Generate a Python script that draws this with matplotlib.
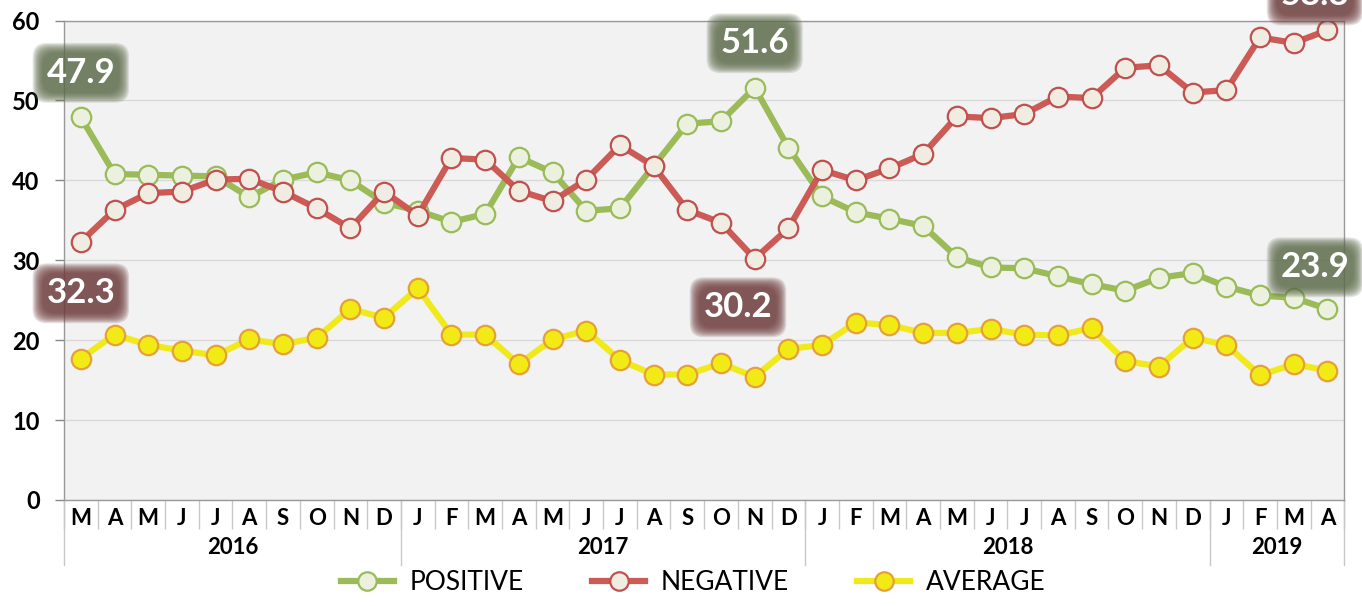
import matplotlib
matplotlib.use("Agg")
import matplotlib.pyplot as plt
import numpy as np

plt.rcParams['font.family'] = ['Lato', 'DejaVu Sans']

months = ['M', 'A', 'M', 'J', 'J', 'A', 'S', 'O', 'N', 'D',
          'J', 'F', 'M', 'A', 'M', 'J', 'J', 'A', 'S', 'O', 'N', 'D',
          'J', 'F', 'M', 'A', 'M', 'J', 'J', 'A', 'S', 'O', 'N', 'D',
          'J', 'F', 'M', 'A']
years = ['2016', '2017', '2018', '2019']
months_per_year = [10, 12, 12, 4]

positive = [47.9, 40.8, 40.7, 40.6, 40.5, 37.9, 40.1, 41.0, 40.0, 37.2,
            36.2, 34.8, 35.8, 42.9, 41.0, 36.2, 36.5, 41.8, 47.1, 47.4, 51.6, 44.1,
            38.0, 36.0, 35.2, 34.3, 30.4, 29.1, 29.0, 28.0, 27.0, 26.2, 27.8, 28.4,
            26.7, 25.6, 25.3, 23.9]
negative = [32.3, 36.3, 38.4, 38.6, 40.1, 40.2, 38.6, 36.5, 34.0, 38.6,
            35.6, 42.8, 42.6, 38.7, 37.4, 40.1, 44.4, 41.8, 36.3, 34.7, 30.2, 34.0,
            41.3, 40.0, 41.5, 43.3, 48.0, 47.8, 48.3, 50.5, 50.3, 54.1, 54.4, 51.0,
            51.3, 57.9, 57.2, 58.8]
average = [17.7, 20.7, 19.4, 18.7, 18.1, 20.1, 19.5, 20.3, 23.9, 22.8,
           26.5, 20.7, 20.7, 17.0, 20.1, 21.2, 17.5, 15.7, 15.7, 17.1, 15.4, 18.9,
           19.4, 22.2, 21.9, 20.9, 20.9, 21.4, 20.7, 20.6, 21.5, 17.4, 16.7, 20.3,
           19.4, 15.6, 17.0, 16.2]

x = np.arange(len(months))

fig = plt.figure(figsize=(13.62, 6.06), dpi=100)
ax = fig.add_axes([0.047, 0.175, 0.940, 0.791])
ax.set_facecolor('#f2f2f2')

ax.plot(x, positive, '-o', color='#9bbb59', lw=4.5, ms=14, mfc='#ebf1de',
        mec='#9bbb59', mew=1.6, label='POSITIVE', zorder=4)
ax.plot(x, negative, '-o', color='#cc5a55', lw=4.5, ms=14, mfc='#f0ece2',
        mec='#c0504d', mew=1.6, label='NEGATIVE', zorder=5)
ax.plot(x, average, '-o', color='#f0ea1c', lw=4.5, ms=14, mfc='#f2ea14',
        mec='#e5a03a', mew=1.6, label='AVERAGE', zorder=3)

ax.set_xlim(-0.5, len(months) - 0.5)
ax.set_ylim(0, 60)
ax.set_yticks(range(0, 61, 10))
ax.yaxis.grid(True, color='#d9d9d9', lw=1)
ax.set_axisbelow(True)
ax.tick_params(axis='y', length=6.5, width=1, color='#888888', pad=11, labelsize=17)
for lab in ax.get_yticklabels():
    lab.set_fontweight('bold')

# month row
ax.set_xticks(x)
ax.set_xticklabels(months, fontsize=16, fontweight='bold')
ax.tick_params(axis='x', which='major', length=0, pad=6)
ax.set_xticks(np.arange(-0.5, len(months), 1), minor=True)
ax.tick_params(axis='x', which='minor', length=21, width=1, color='#c8c8c8')

for sp in ax.spines.values():
    sp.set_color('#999999')
    sp.set_linewidth(1)

# year row
bounds = np.concatenate([[0], np.cumsum(months_per_year)]) - 0.5
for i, yr in enumerate(years):
    ax.text((bounds[i] + bounds[i + 1]) / 2, -0.1, yr, transform=ax.get_xaxis_transform(),
            ha='center', va='center', fontsize=16, fontweight='bold')
for b in bounds:
    ax.plot([b, b], [0, -0.135], transform=ax.get_xaxis_transform(), color='#c8c8c8',
            lw=1, clip_on=False)


def glow_label(xi, yi, dx, dy, col):
    txt = f'{yi:.1f}'
    # soft blurred edge: many faint rounded boxes
    for pad in np.linspace(0.40, 0.12, 10):
        ax.annotate(txt, (xi, yi), xytext=(dx, dy), textcoords='offset points',
                    ha='center', va='center', fontsize=25, fontweight='bold', color='none',
                    bbox=dict(boxstyle=f'round,pad={pad:.3f},rounding_size=0.4', fc=col,
                              ec='none', alpha=0.17),
                    annotation_clip=False, zorder=7)
    ax.annotate(txt, (xi, yi), xytext=(dx, dy), textcoords='offset points',
                ha='center', va='center', fontsize=25, fontweight='bold', color='white',
                annotation_clip=False, zorder=8)


green_box = '#5f6d4c'
red_box = '#6e3c3c'
ipos_max = int(np.argmax(positive))
ineg_min = int(np.argmin(negative))
glow_label(x[0], positive[0], 0, 32, green_box)
glow_label(x[ipos_max], positive[ipos_max], 0, 32, green_box)
glow_label(x[-1], positive[-1], -9, 30, green_box)
glow_label(x[0], negative[0], 0, -37, red_box)
glow_label(x[ineg_min], negative[ineg_min], -12, -35, red_box)
glow_label(x[-1], negative[-1], -9, 25, red_box)

fig.legend(loc='center', bbox_to_anchor=(0.509, 0.038), ncol=3, frameon=False,
           fontsize=19, handlelength=2.0, handletextpad=0.6, columnspacing=2.6,
           markerscale=0.95)

fig.savefig('out.png', dpi=100)
